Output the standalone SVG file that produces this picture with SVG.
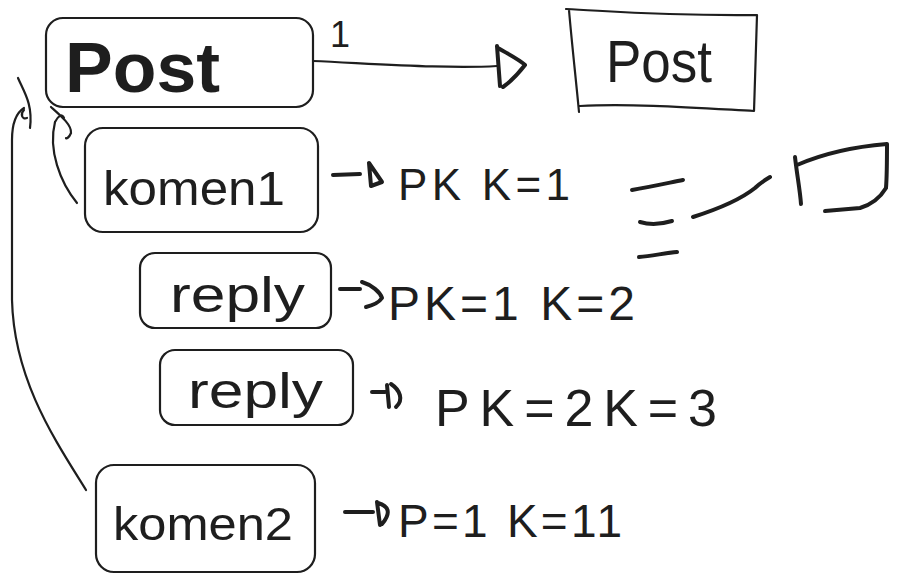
<svg xmlns="http://www.w3.org/2000/svg" width="899" height="582" viewBox="0 0 899 582">
<defs>
<style>
.box{fill:none;stroke:#1e1e1e;stroke-width:2.2;stroke-linecap:round;stroke-linejoin:round}
.ink{fill:none;stroke:#1e1e1e;stroke-width:2.2;stroke-linecap:round;stroke-linejoin:round}
.thick{fill:none;stroke:#1e1e1e;stroke-width:4;stroke-linecap:round;stroke-linejoin:round}
.lbl{font-family:"Liberation Sans","Noto Sans",Arial,sans-serif;fill:#1e1e1e}
.note{font-family:"Liberation Sans","Noto Sans",Arial,sans-serif;fill:#1e1e1e}
</style>
</defs>
<rect width="899" height="582" fill="#ffffff"/>

<g id="node-post">
<rect class="box" x="46" y="18" width="267" height="89" rx="17"/>
<text class="lbl" x="65" y="92" font-size="70" font-weight="bold" textLength="155" lengthAdjust="spacingAndGlyphs">Post</text>
</g>

<g id="node-post-table">
<path class="box" d="M566,9 C610,11 660,16 757,15 M757,15 C756,50 755,80 754,111 M754,111 C700,108 630,103 580,106 M569,10 C572,45 576,80 579,112"/>
<text class="lbl" x="606" y="82" font-size="60" textLength="106" lengthAdjust="spacingAndGlyphs">Post</text>
</g>

<g id="node-komen1">
<rect class="box" x="85" y="128" width="233" height="104" rx="18"/>
<text class="lbl" x="103" y="205" font-size="48" textLength="182" lengthAdjust="spacingAndGlyphs">komen1</text>
</g>

<g id="node-reply1">
<rect class="box" x="140" y="253" width="191" height="75" rx="15"/>
<text class="lbl" x="170" y="312" font-size="50" textLength="135" lengthAdjust="spacingAndGlyphs">reply</text>
</g>

<g id="node-reply2">
<rect class="box" x="160" y="350" width="193" height="75" rx="15"/>
<text class="lbl" x="188" y="408" font-size="50" textLength="135" lengthAdjust="spacingAndGlyphs">reply</text>
</g>

<g id="node-komen2">
<rect class="box" x="96" y="465" width="219" height="107" rx="18"/>
<text class="lbl" x="113" y="540" font-size="46" textLength="180" lengthAdjust="spacingAndGlyphs">komen2</text>
</g>

<g id="connectors">
<path class="ink" d="M313,61 C380,64 450,69 497,66"/>
<path class="thick" d="M497,46 L500,86 M498,48 C510,55 520,60 525,65 C518,74 510,82 503,87"/>
<path class="ink" d="M86,490 C55,440 14,380 12,300 L12,140 C12,122 16,113 24,108"/>
<path class="ink" d="M18,78 C24,92 33,104 30,128 M24,110 C20,114 22,120 27,118"/>
<path class="ink" d="M77,203 C60,182 48,150 55,122"/>
<path class="ink" d="M51,107 C60,115 72,125 71,133 C69,138 66,139 66,138 M55,122 C58,116 62,113 64,118"/>
<path class="thick" d="M333,175 L360,174 M369,163 L371,186 M369,163 L382,182 L371,186"/>
<path class="thick" d="M340,289 L360,289 M362,282 C372,285 380,292 382,298 C378,304 370,306 366,307"/>
<path class="thick" d="M372,392 L385,392 M387,385 L389,407 M391,384 C400,390 404,400 396,407"/>
<path class="thick" d="M345,512 L373,512 M377,502 L380,525 M378,503 C388,506 392,512 382,524"/>
</g>

<g id="labels">
<text class="lbl" x="330" y="47" font-size="36">1</text>
<text class="note" x="398" y="200" font-size="44" textLength="172" lengthAdjust="spacing">PK K=1</text>
<text class="note" x="388" y="320" font-size="48" textLength="247" lengthAdjust="spacing">PK=1 K=2</text>
<text class="note" x="435" y="426" font-size="52" textLength="282" lengthAdjust="spacing">PK=2K=3</text>
<text class="note" x="398" y="537" font-size="46" textLength="224" lengthAdjust="spacing">P=1 K=11</text>
</g>

<g id="scribbles">
<path class="thick" d="M632,190 C650,187 668,183 683,180"/>
<path class="thick" d="M640,222 C650,225 662,224 672,221"/>
<path class="thick" d="M639,257 C652,256 665,253 677,252"/>
<path class="thick" d="M693,217 C715,210 740,200 755,188 C760,183 765,180 770,177"/>
<path class="thick" d="M795,157 C797,175 800,190 801,204 M797,165 C820,155 850,147 887,144 C887,160 887,175 886,188 C880,198 870,205 860,208 L825,211"/>
</g>
</svg>
